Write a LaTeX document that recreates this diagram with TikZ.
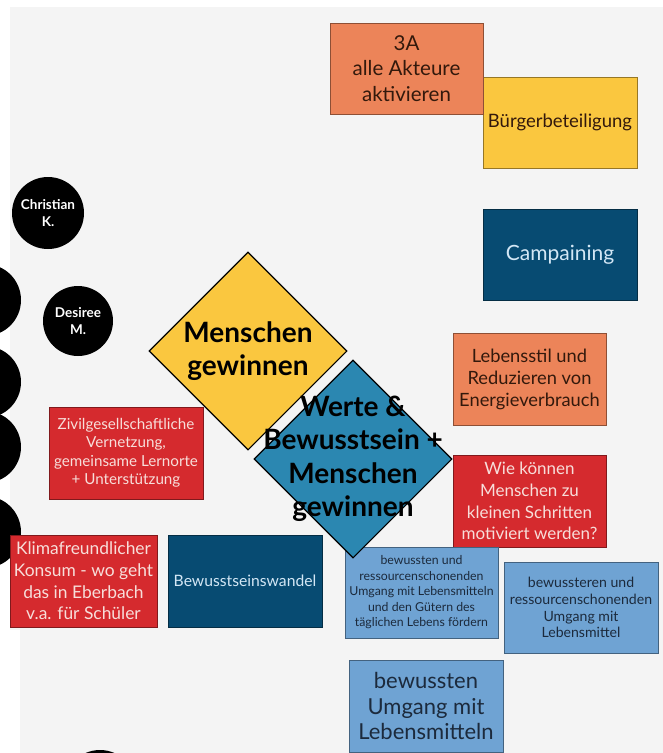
\documentclass[tikz,border=0pt]{standalone}
\usepackage{fontspec}
\setmainfont{Lato}
\usetikzlibrary{shapes.geometric}

\definecolor{pagebg}{HTML}{F4F4F4}
\definecolor{cOrange}{HTML}{EC8459}
\definecolor{cYellow}{HTML}{FAC73F}
\definecolor{cNavy}{HTML}{074B72}
\definecolor{cRed}{HTML}{D52A2E}
\definecolor{cSky}{HTML}{6FA3D3}
\definecolor{cTeal}{HTML}{2B87B1}
\definecolor{tDark}{HTML}{33190C}
\definecolor{tPink}{HTML}{F7DEDA}
\definecolor{tIce}{HTML}{D3E7F5}
\definecolor{tInk}{HTML}{1C2A3C}

\tikzset{
  card/.style={rectangle, fill=#1, draw=#1!60!black, line width=0.8pt,
    minimum width=153pt, minimum height=91pt, inner sep=0pt, align=center},
  fs/.style n args={2}{font=\fontsize{#1}{#2}\selectfont},
  person/.style={circle, fill=black, minimum size=#1, inner sep=0pt,
    text=white, align=center, font=\bfseries\fontsize{13.5}{17.5}\selectfont},
  rhomb/.style={diamond, aspect=1, fill=#1, draw=black, line width=1.1pt,
    minimum size=198pt, inner sep=0pt},
  rhombtext/.style={align=center, text=black, font=\bfseries\fontsize{28}{33.5}\selectfont}
}

\begin{document}
\begin{tikzpicture}[x=1pt,y=-1pt]
  \useasboundingbox (0,0) rectangle (663,753);
  % canvas
  \fill[white] (0,0) rectangle (663,753);
  \fill[pagebg] (10,7) rectangle (663,630);
  \fill[pagebg] (20,630) rectangle (663,753);

  % people markers
  \node[person=72pt] (christian) at (48,213) {Christian\\K.};
  \node[person=70pt] (desiree) at (78,321) {Desiree\\M.};
  \node[person=72pt] (p1) at (-15,300) {};
  \node[person=72pt] (p2) at (-15,382) {};
  \node[person=72pt] (p3) at (-15,447) {};
  \node[person=72pt] (p4) at (-15,532) {};
  \node[person=72pt] (p5) at (100,786) {};

  % top right cards
  \node[card=cYellow, minimum width=154pt, text=tDark, fs={18.5}{22}] (buerger) at (560,122.5) {Bürgerbeteiligung};
  \node[card=cOrange, text=tDark, fs={20.5}{25.5}] (akteure) at (406.5,68.5) {3A\\alle Akteure\\aktivieren};
  \node[card=cNavy, minimum width=154pt, text=tIce, fs={21}{24}] (campaign) at (560,254.5) {Campaining};

  \node[card=cOrange, minimum height=92pt, text=tDark, fs={18.3}{22}] (lebensstil) at (529.5,379) {Lebensstil und\\Reduzieren von\\Energieverbrauch};
  \node[card=cRed, minimum height=92pt, text=tPink, fs={17}{21.7}] (schritte) at (529.5,501) {Wie können\\Menschen zu\\kleinen Schritten\\motiviert werden?};

  % left cards
  \node[card=cRed, minimum width=154pt, minimum height=92pt, text=tPink, fs={15.2}{18.5}] (zivil) at (126,453) {Zivilgesellschaftliche\\Vernetzung,\\gemeinsame Lernorte\\+ Unterstützung};
  \node[card=cRed, minimum width=147pt, minimum height=92pt, text=tPink, fs={17.4}{21.7}] (klima) at (83.5,581) {Klimafreundlicher\\Konsum - wo geht\\das in Eberbach\\v.a. für Schüler};
  \node[card=cNavy, minimum width=154pt, minimum height=92pt, text=tIce, fs={15.7}{20}] (wandel) at (245,581) {Bewusstseinswandel};

  % light blue cards
  \node[card=cSky, text=tInk, fs={12.3}{15.5}] (foerdern) at (421.5,592.5) {bewussten und\\ressourcenschonenden\\Umgang mit Lebensmitteln\\und den Gütern des\\täglichen Lebens fördern};
  \node[card=cSky, minimum width=154pt, text=tInk, fs={14.1}{16.8}] (bewussteren) at (581,607.5) {bewussteren und\\ressourcenschonenden\\Umgang mit\\Lebensmittel};
  \node[card=cSky, minimum width=154pt, minimum height=92pt, text=tInk, fs={22}{25.5}] (umgang) at (426,706) {bewussten\\Umgang mit\\Lebensmitteln};

  % central diamonds
  \node[rhomb=cYellow, label={[rhombtext]center:{Menschen\\gewinnen}}] (gewinnen) at (248,351) {};
  \node[rhomb=cTeal, label={[rhombtext]center:{Werte \&\\Bewusstsein +\\Menschen\\gewinnen}}] (werte) at (353,459) {};
\end{tikzpicture}
\end{document}
